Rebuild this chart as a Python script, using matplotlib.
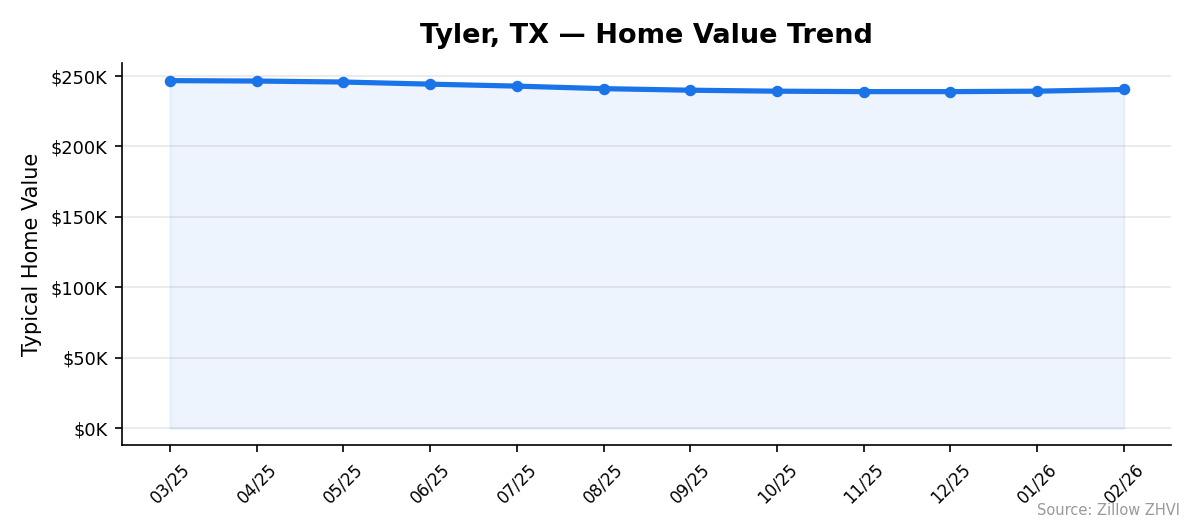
import matplotlib
matplotlib.use("Agg")
import matplotlib.pyplot as plt
from matplotlib.ticker import FuncFormatter

months = ['03/25', '04/25', '05/25', '06/25', '07/25', '08/25',
          '09/25', '10/25', '11/25', '12/25', '01/26', '02/26']
values = [246700, 246400, 245700, 244200, 242800, 241000,
          239900, 239200, 238900, 238900, 239200, 240400]

fig, ax = plt.subplots(figsize=(7.96, 3.527), dpi=150)
x = range(len(months))
ax.fill_between(x, values, color='#1a73e8', alpha=0.08)
ax.plot(x, values, color='#1a73e8', linewidth=2.5, marker='o', markersize=4.5)

ax.set_xticks(list(x))
ax.set_xticklabels(months, rotation=45, fontsize=8)
ax.set_ylim(-12000, 259000)
ax.set_yticks([0, 50000, 100000, 150000, 200000, 250000])
ax.yaxis.set_major_formatter(FuncFormatter(lambda v, p: f'${v/1000:.0f}K'))
ax.tick_params(axis='y', labelsize=8.5)
ax.set_ylabel('Typical Home Value', fontsize=10)
ax.set_title('Tyler, TX — Home Value Trend', fontsize=13, fontweight='bold', pad=10)
ax.grid(axis='y', alpha=0.3)
ax.spines['top'].set_visible(False)
ax.spines['right'].set_visible(False)
fig.text(0.988, 0.02, 'Source: Zillow ZHVI', ha='right', va='bottom', fontsize=7, color='#999999')

plt.tight_layout()
plt.savefig('out.png')
